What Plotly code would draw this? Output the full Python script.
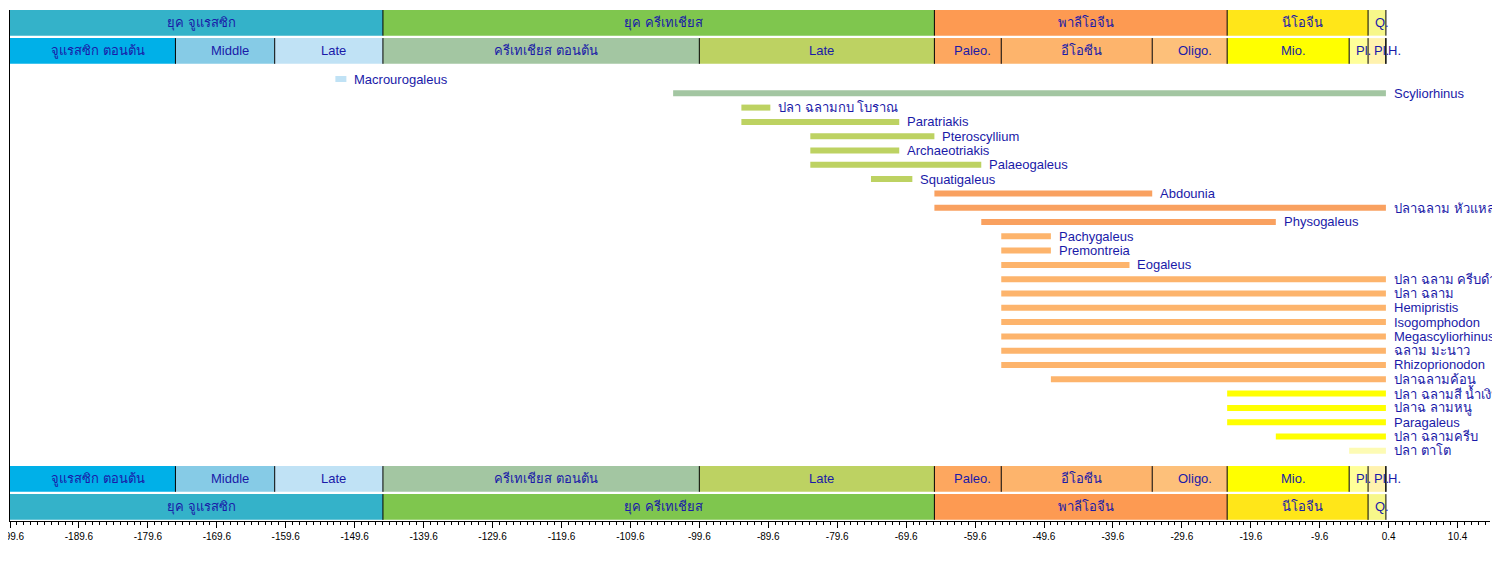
import plotly.graph_objects as go

# ---------------- data ----------------
period_names = ["ยุค จูแรสซิก", "ยุค ครีเทเชียส", "พาลีโอจีน", "นีโอจีน", "Q."]
period_start = [-199.6, -145.5, -65.5, -23.03, -2.588]
period_end = [-145.5, -65.5, -23.03, -2.588, 0.0]
period_colors = ["#34b2c9", "#7fc64e", "#fd9a52", "#ffe619", "#f7f78a"]

epoch_names = ["จูแรสซิก ตอนต้น", "Middle", "Late", "ครีเทเชียส ตอนต้น", "Late",
               "Paleo.", "อีโอซีน", "Oligo.", "Mio.", "Pl.", "Pl.", "H."]
epoch_start = [-199.6, -175.6, -161.2, -145.5, -99.6, -65.5, -55.8, -33.9,
               -23.03, -5.332, -2.588, -0.0117]
epoch_end = [-175.6, -161.2, -145.5, -99.6, -65.5, -55.8, -33.9, -23.03,
             -5.332, -2.588, -0.0117, 0.0]
epoch_colors = ["#00b0e8", "#86cbe6", "#c0e2f5", "#a3c6a2", "#bdd262",
                "#fda75f", "#fdb46c", "#fdc07a", "#ffff00", "#ffff99",
                "#fff2ae", "#fef2e0"]

taxa_names = [
    "Macrourogaleus", "Scyliorhinus", "ปลา ฉลามกบ โบราณ", "Paratriakis",
    "Pteroscyllium", "Archaeotriakis", "Palaeogaleus", "Squatigaleus",
    "Abdounia", "ปลาฉลาม หัวแหลมสั้น", "Physogaleus", "Pachygaleus",
    "Premontreia", "Eogaleus", "ปลา ฉลาม ครีบดำ", "ปลา ฉลาม",
    "Hemipristis", "Isogomphodon", "Megascyliorhinus", "ฉลาม มะนาว",
    "Rhizoprionodon", "ปลาฉลามค้อน", "ปลา ฉลามสี น้ำเงิน", "ปลาฉ ลามหนู",
    "Paragaleus", "ปลา ฉลามครีบ", "ปลา ตาโต",
]
taxa_start = [-152.4, -103.4, -93.5, -93.5, -83.5, -83.5, -83.5, -74.7,
              -65.5, -65.5, -58.7, -55.8, -55.8, -55.8, -55.8, -55.8,
              -55.8, -55.8, -55.8, -55.8, -55.8, -48.6, -23.03, -23.03,
              -23.03, -15.97, -5.332]
taxa_end = [-150.8, 0.0, -89.3, -70.6, -65.5, -70.6, -58.7, -68.7,
            -33.9, 0.0, -15.97, -48.6, -48.6, -37.2, 0.0, 0.0,
            0.0, 0.0, 0.0, 0.0, 0.0, 0.0, 0.0, 0.0,
            0.0, 0.0, 0.0]
taxa_colors = ["#c0e2f5", "#a3c6a2", "#bdd262", "#bdd262", "#bdd262",
               "#bdd262", "#bdd262", "#bdd262", "#f9a160", "#f9a160",
               "#f9a160", "#fdb46c", "#fdb46c", "#fdb46c", "#fdb46c",
               "#fdb46c", "#fdb46c", "#fdb46c", "#fdb46c", "#fdb46c",
               "#fdb46c", "#fdb46c", "#ffff00", "#ffff00", "#ffff00",
               "#ffff00", "#fdfbb4"]

tick_values = [-199.6, -189.6, -179.6, -169.6, -159.6, -149.6, -139.6, -129.6,
               -119.6, -109.6, -99.6, -89.6, -79.6, -69.6, -59.6, -49.6,
               -39.6, -29.6, -19.6, -9.6, 0.4, 10.4]
tick_labels = ["-199.6", "-189.6", "-179.6", "-169.6", "-159.6", "-149.6",
               "-139.6", "-129.6", "-119.6", "-109.6", "-99.6", "-89.6",
               "-79.6", "-69.6", "-59.6", "-49.6", "-39.6", "-29.6",
               "-19.6", "-9.6", "0.4", "10.4"]

# ---------------- layout constants ----------------
TEXT_COLOR = "#1a1aa8"
FONT = "Liberation Sans, Arial, sans-serif"
BAND_W = 1.8
TOP_PERIOD_Y = -3.93
TOP_EPOCH_Y = -1.96
BOT_EPOCH_Y = 27.97
BOT_PERIOD_Y = 29.93
TAXON_W = 0.42

fig = go.Figure()


def add_band(names, starts, ends, colors, yc):
    fig.add_trace(go.Bar(
        orientation="h",
        y=[yc] * len(names),
        base=starts,
        x=[e - s for s, e in zip(starts, ends)],
        width=BAND_W,
        marker=dict(color=colors, line=dict(width=0)),
        hoverinfo="skip",
        showlegend=False,
    ))
    xs, ys = [], []
    for e in ends:
        xs += [e, e, None]
        ys += [yc - BAND_W / 2, yc + BAND_W / 2, None]
    fig.add_trace(go.Scatter(x=xs, y=ys, mode="lines",
                             line=dict(color="black", width=1),
                             hoverinfo="skip", showlegend=False))
    for n, s, e in zip(names, starts, ends):
        if e - s < 1:
            fig.add_annotation(x=e, y=yc, text=n, showarrow=False,
                               xanchor="left", xshift=0,
                               font=dict(size=13, color=TEXT_COLOR, family=FONT))
        else:
            fig.add_annotation(x=(s + e) / 2, y=yc, text=n, showarrow=False,
                               xanchor="center", xshift=5,
                               font=dict(size=13, color=TEXT_COLOR, family=FONT))


add_band(period_names, period_start, period_end, period_colors, TOP_PERIOD_Y)
add_band(epoch_names, epoch_start, epoch_end, epoch_colors, TOP_EPOCH_Y)
add_band(epoch_names, epoch_start, epoch_end, epoch_colors, BOT_EPOCH_Y)
add_band(period_names, period_start, period_end, period_colors, BOT_PERIOD_Y)

rows = list(range(len(taxa_names)))
fig.add_trace(go.Bar(
    orientation="h",
    y=rows,
    base=taxa_start,
    x=[e - s for s, e in zip(taxa_start, taxa_end)],
    width=TAXON_W,
    marker=dict(color=taxa_colors, line=dict(width=0)),
    hoverinfo="skip",
    showlegend=False,
))
for r, n, e in zip(rows, taxa_names, taxa_end):
    fig.add_annotation(x=e, y=r, text=n, showarrow=False, xanchor="left",
                       xshift=6, font=dict(size=13, color=TEXT_COLOR, family=FONT))

fig.update_layout(
    width=1500, height=570,
    margin=dict(l=2, r=18, t=2, b=57),
    paper_bgcolor="white", plot_bgcolor="white",
    barmode="overlay",
    showlegend=False,
    xaxis=dict(
        range=[-199.6, 15.1],
        tickmode="array", tickvals=tick_values, ticktext=tick_labels,
        ticks="outside", ticklen=6, tickcolor="black", tickwidth=1,
        minor=dict(ticks="outside", ticklen=3, dtick=1, tick0=-199.6,
                   tickcolor="black", tickwidth=1),
        showline=True, linecolor="black", linewidth=1,
        showgrid=False, zeroline=False, automargin=False,
        ticklabeloverflow="allow",
        tickfont=dict(size=10, color="black", family=FONT),
    ),
    yaxis=dict(
        range=[30.91, -4.825],
        showticklabels=False, ticks="", showgrid=False, zeroline=False,
        showline=True, linecolor="black", linewidth=1, automargin=False,
    ),
)

fig.write_html("out.html")
